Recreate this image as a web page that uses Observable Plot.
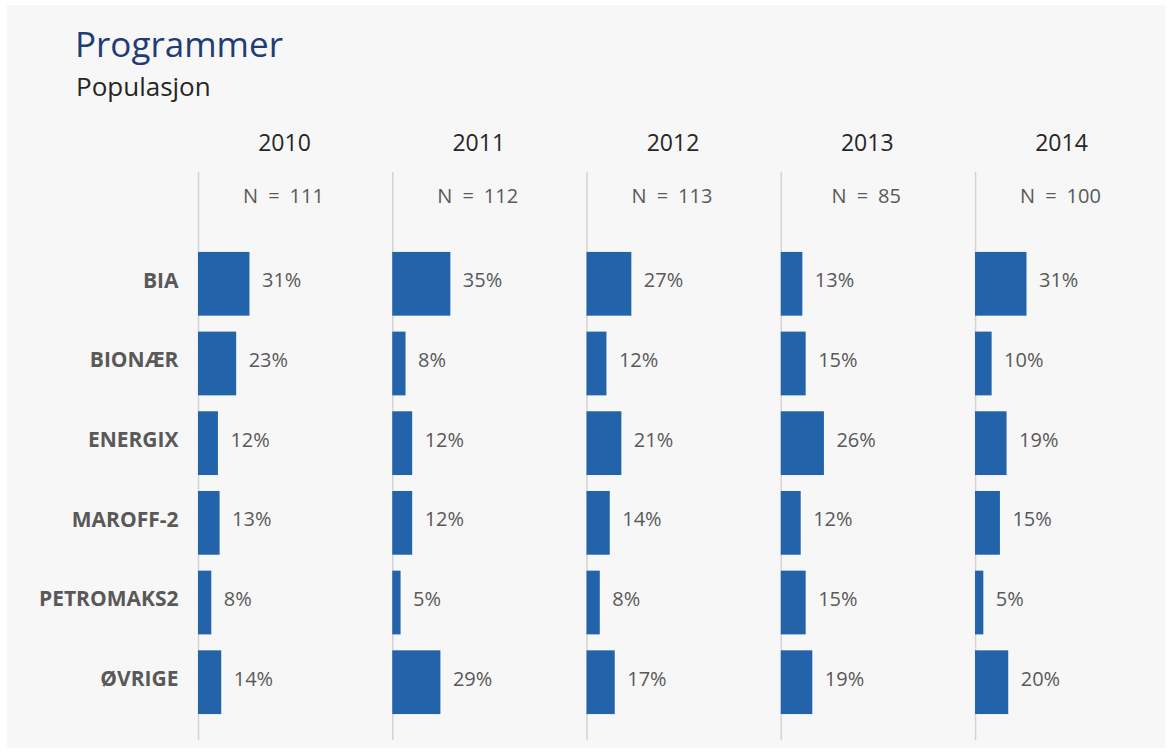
<!DOCTYPE html>
<html>
<head>
<meta charset="utf-8">
<script src="https://cdn.jsdelivr.net/npm/d3@7"></script>
<script src="https://cdn.jsdelivr.net/npm/@observablehq/plot@0.6"></script>
<style>
  html, body { margin: 0; padding: 0; background: #ffffff; }
  #panel { position: absolute; left: 7px; top: 5px; width: 1158px; height: 743px; background: #f7f7f7; overflow: hidden; font-family: "Open Sans", sans-serif; }
  #title { position: absolute; left: 68px; top: 21px; font-size: 35px; line-height: 35px; color: #1f3c74; white-space: nowrap; }
  #subtitle { position: absolute; left: 69px; top: 68px; font-size: 26px; line-height: 26px; color: #262626; white-space: nowrap; }
  #chart { position: absolute; left: 0; top: 105px; }
</style>
</head>
<body>
<div id="panel">
  <div id="title">Programmer</div>
  <div id="subtitle">Populasjon</div>
  <div id="chart"></div>
</div>
<script>
const years = ["2010", "2011", "2012", "2013", "2014"];
const nValues = [111, 112, 113, 85, 100];
const programs = ["BIA", "BIONÆR", "ENERGIX", "MAROFF-2", "PETROMAKS2", "ØVRIGE"];
const shares2010 = [31, 23, 12, 13, 8, 14];
const shares2011 = [35, 8, 12, 12, 5, 29];
const shares2012 = [27, 12, 21, 14, 8, 17];
const shares2013 = [13, 15, 26, 12, 15, 19];
const shares2014 = [31, 10, 19, 15, 5, 20];
const sharesByYear = [shares2010, shares2011, shares2012, shares2013, shares2014];

const rows = [];
years.forEach((yr, i) => {
  programs.forEach((p, j) => rows.push({year: yr, program: p, value: sharesByYear[i][j]}));
});
const headers = years.map((yr, i) => ({year: yr, n: nValues[i]}));

const chart = Plot.plot({
  width: 1158,
  height: 638,
  marginTop: 62,
  marginBottom: 8,
  marginLeft: 191,
  marginRight: 20,
  style: {background: "transparent", fontFamily: "Open Sans, sans-serif", color: "#595959", overflow: "visible"},
  fx: {domain: years, paddingInner: 0.125, paddingOuter: 0, align: 0, round: false, axis: null},
  x: {domain: [0, 102.4], axis: null},
  y: {domain: programs, range: [126, 620], paddingInner: 0.2, paddingOuter: 0.2, round: false, label: null},
  marks: [
    Plot.ruleX(headers, {fx: "year", x: () => 0, stroke: "#d4d4d4", strokeWidth: 1.5}),
    Plot.barX(rows, {fx: "year", y: "program", x: "value", fill: "#2263a9"}),
    Plot.text(rows, {fx: "year", y: "program", x: "value", text: d => d.value + "%", dx: 12, dy: -3.5, textAnchor: "start", fontSize: 20, fill: "#595959"}),
    Plot.text(headers, {fx: "year", text: d => "N\u2002=\u2002" + d.n, frameAnchor: "top", dy: 24, dx: 0, lineAnchor: "middle", fontSize: 20, fill: "#595959"}),
    Plot.text(headers, {fx: "year", text: "year", frameAnchor: "top", dy: -28.5, dx: 1, lineAnchor: "middle", fontSize: 23, fill: "#262626"}),
    Plot.axisY({tickSize: 0, tickPadding: 20, dy: -3.5, fontSize: 21, fontWeight: "bold", fill: "#595959", label: null})
  ]
});
document.getElementById("chart").appendChild(chart);
</script>
</body>
</html>
